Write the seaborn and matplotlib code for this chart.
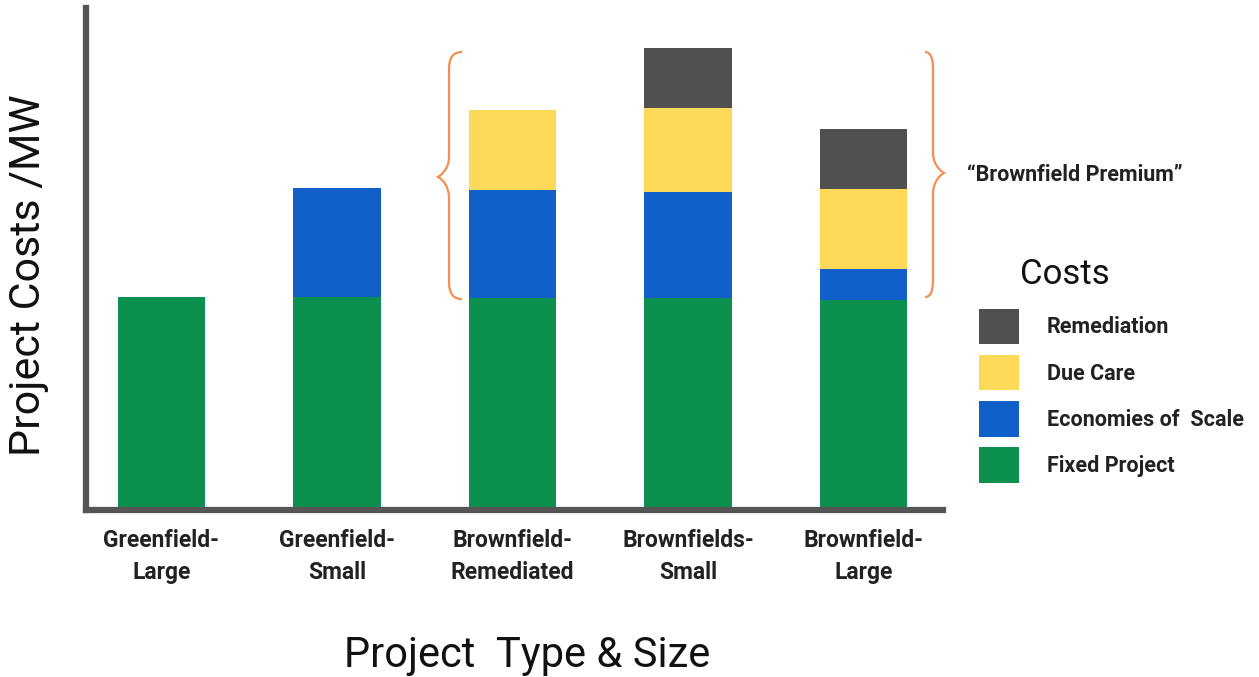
import numpy as np
import pandas as pd
import seaborn as sns
import matplotlib.pyplot as plt
from matplotlib.patches import Patch, PathPatch
from matplotlib.path import Path

# data (arbitrary cost units)
projects = ["Greenfield-\nLarge", "Greenfield-\nSmall", "Brownfield-\nRemediated",
            "Brownfields-\nSmall", "Brownfield-\nLarge"]
fixed_project = [42.4, 42.4, 42.2, 42.2, 41.8]
economies = [0.0, 21.7, 21.5, 21.1, 6.2]
due_care = [0.0, 0.0, 16.0, 16.8, 15.9]
remediation = [0.0, 0.0, 0.0, 11.9, 12.0]

cost_names = ["Remediation", "Due Care", "Economies of  Scale", "Fixed Project"]
cost_colors = ["#505050", "#fdd959", "#1160c9", "#0c9050"]

W, H = 1259, 677
sns.set_style("white")
plt.rcParams["font.family"] = ["Roboto", "DejaVu Sans"]

fig = plt.figure(figsize=(W / 100, H / 100), dpi=100)
ax = fig.add_axes([86 / W, 1 - 510 / H, (943 - 86) / W, (510 - 8) / H])

# cumulative stacks, drawn tallest first so lower layers sit on top
layers = [fixed_project, economies, due_care, remediation]
cum = np.cumsum(np.array(layers), axis=0)
for i in range(3, -1, -1):
    df = pd.DataFrame({"project": projects, "value": cum[i]})
    sns.barplot(data=df, x="project", y="value", color=cost_colors[3 - i],
                saturation=1, width=0.5, linewidth=0, ax=ax)

ax.set_xlim(-0.43, 4.453)
ax.set_ylim(0, 100)
ax.set_xlabel("")
ax.set_ylabel("")
ax.set_yticks([])
ax.tick_params(axis="x", length=0, pad=14)
for lab in ax.get_xticklabels():
    lab.set_fontsize(16.5)
    lab.set_fontweight("bold")
    lab.set_linespacing(1.5)
    lab.set_color("#222222")
for s in ["top", "right"]:
    ax.spines[s].set_visible(False)
for s in ["left", "bottom"]:
    ax.spines[s].set_color("#555555")
    ax.spines[s].set_linewidth(4.5)

fig.text(29 / W, 1 - 275 / H, "Project Costs /MW", rotation=90, fontsize=31,
         ha="center", va="center", color="#111111")
fig.text(527 / W, 1 - 655 / H, "Project  Type & Size", fontsize=30,
         ha="center", va="center", color="#111111")
fig.text(967 / W, 1 - 175 / H, "\u201cBrownfield Premium\u201d", fontsize=15.5,
         fontweight="bold", ha="left", va="center", color="#222222")
fig.text(1065 / W, 1 - 275 / H, "Costs", fontsize=25, ha="center", va="center",
         color="#111111")


def brace(x_end, x_mid, x_tip, y_top, y_tip, y_bot):
    # curly brace in pixel coords, converted to figure fraction
    pts = [
        (x_end, y_top),
        (x_mid, y_top), (x_mid, y_top + 12), (x_mid, y_top + 20),
        (x_mid, y_tip - 20),
        (x_mid, y_tip - 6), (x_tip, y_tip), (x_tip, y_tip),
        (x_mid, y_tip + 6), (x_mid, y_tip + 20), (x_mid, y_tip + 20),
        (x_mid, y_bot - 20),
        (x_mid, y_bot - 12), (x_mid, y_bot), (x_end, y_bot),
    ]
    codes = [Path.MOVETO,
             Path.CURVE4, Path.CURVE4, Path.CURVE4,
             Path.LINETO,
             Path.CURVE4, Path.CURVE4, Path.CURVE4,
             Path.CURVE4, Path.CURVE4, Path.CURVE4,
             Path.LINETO,
             Path.CURVE4, Path.CURVE4, Path.CURVE4]
    verts = [(x / W, 1 - y / H) for x, y in pts]
    p = PathPatch(Path(verts, codes), transform=fig.transFigure, fill=False,
                  edgecolor="#f98d50", linewidth=1.6)
    fig.add_artist(p)


brace(462, 449, 438, 52, 177, 299)
brace(925, 933, 944, 52, 173, 297)

handles = [Patch(facecolor=c, edgecolor="none") for c in cost_colors]
leg = fig.legend(handles, cost_names, loc="upper left",
                 bbox_to_anchor=(979 / W, 1 - 309 / H), frameon=False,
                 borderpad=0, borderaxespad=0,
                 handlelength=1.86, handleheight=2.15, handletextpad=1.3,
                 labelspacing=0.5,
                 prop={"weight": "bold", "size": 15.5})
for t in leg.get_texts():
    t.set_color("#222222")

fig.savefig("out.png", dpi=100)
